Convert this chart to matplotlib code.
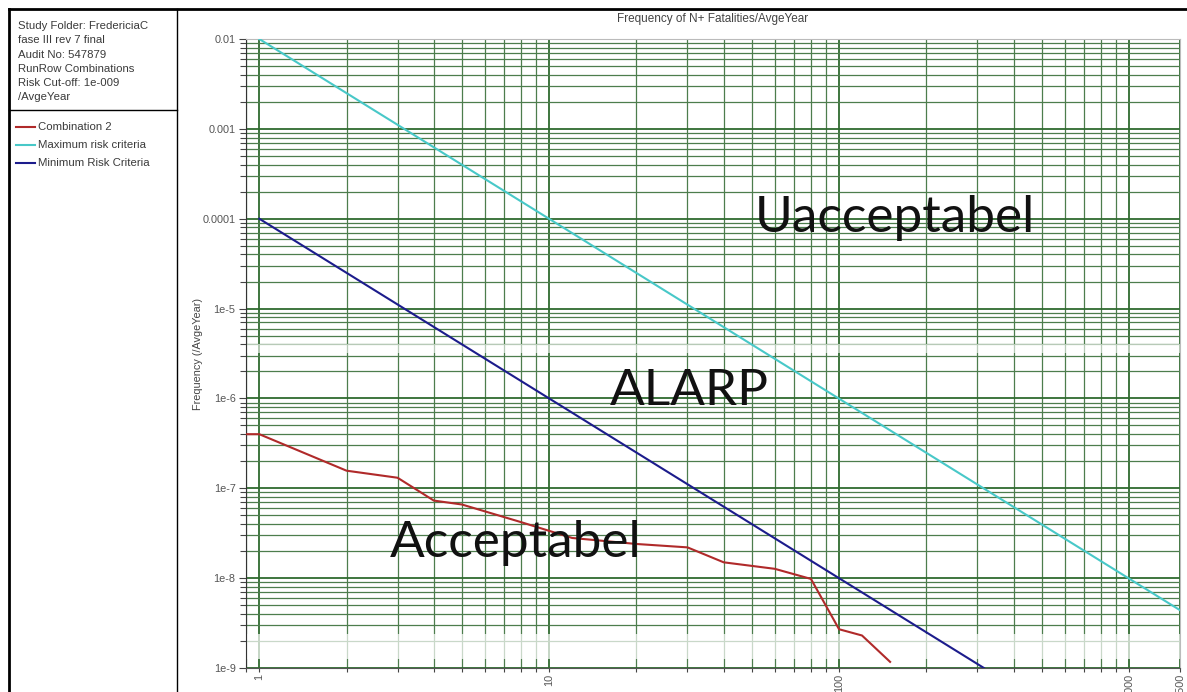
import matplotlib
matplotlib.use("Agg")
import matplotlib.pyplot as plt
from matplotlib.lines import Line2D
from matplotlib.ticker import FixedLocator, FixedFormatter, NullFormatter, LogLocator

# --- data ---
n_comb = [0.9, 1, 2, 3, 4, 5, 8, 12, 20, 30, 40, 60, 80, 100, 120, 150]
f_comb = [4.0e-7, 4.0e-7, 1.57e-7, 1.31e-7, 7.3e-8, 6.6e-8, 4.2e-8, 2.8e-8,
          2.4e-8, 2.2e-8, 1.5e-8, 1.27e-8, 9.8e-9, 2.7e-9, 2.3e-9, 1.17e-9]

n_max = [1, 1500]
f_max = [1e-2, 4.4e-9]

n_min = [1, 316]
f_min = [1e-4, 1e-9]

x_ticks = [1, 10, 100, 1000, 1500]
x_labels = ["1", "10", "100", "1000", "1500"]
y_ticks = [1e-2, 1e-3, 1e-4, 1e-5, 1e-6, 1e-7, 1e-8, 1e-9]
y_labels = ["0.01", "0.001", "0.0001", "1e-5", "1e-6", "1e-7", "1e-8", "1e-9"]

info_lines = ["Study Folder: FredericiaC", "fase III rev 7 final", "Audit No: 547879",
              "RunRow Combinations", "Risk Cut-off: 1e-009", "/AvgeYear"]
legend_names = ["Combination 2", "Maximum risk criteria", "Minimum Risk Criteria"]
legend_colors = ["#b02a2a", "#48c8c8", "#1c1c8c"]

W, H = 1187, 692
fig = plt.figure(figsize=(W / 100, H / 100), dpi=100)
fig.patch.set_facecolor("white")


def fx(px):
    return px / W


def fy(py):
    return 1 - py / H


txt_col = "#3a3a3a"
sans = ["Liberation Sans", "DejaVu Sans"]

# outer frame lines
fig.add_artist(Line2D([fx(9), 1], [fy(9), fy(9)], color="black", lw=2))
fig.add_artist(Line2D([fx(9), fx(9)], [fy(9), 0], color="black", lw=2))
fig.add_artist(Line2D([fx(177), fx(177)], [fy(9), 0], color="black", lw=1))
fig.add_artist(Line2D([fx(9), fx(177)], [fy(110), fy(110)], color="black", lw=1))

# info text in left panel
for i, s in enumerate(info_lines):
    fig.text(fx(18), fy(26 + i * 14.3), s, fontsize=8.2, color=txt_col,
             family=sans, va="center", ha="left")

# legend in left panel
for i, (name, c) in enumerate(zip(legend_names, legend_colors)):
    yy = fy(127 + i * 18)
    fig.add_artist(Line2D([fx(16), fx(35)], [yy, yy], color=c, lw=1.5))
    fig.text(fx(38), yy, name, fontsize=8.2, color=txt_col, family=sans,
             va="center", ha="left")

# main axes
ax = fig.add_axes([fx(246), fy(668), fx(1180) - fx(246), fy(39) - fy(668)])
ax.set_xscale("log")
ax.set_yscale("log")
ax.set_xlim(0.9, 1500)
ax.set_ylim(1e-9, 1e-2)

grid_col = "#4d7d4d"
ax.xaxis.set_major_locator(FixedLocator(x_ticks))
ax.xaxis.set_major_formatter(FixedFormatter(x_labels))
ax.xaxis.set_minor_locator(LogLocator(base=10, subs=range(2, 10), numticks=20))
ax.xaxis.set_minor_formatter(NullFormatter())
ax.yaxis.set_major_locator(FixedLocator(y_ticks))
ax.yaxis.set_major_formatter(FixedFormatter(y_labels))
ax.yaxis.set_minor_locator(LogLocator(base=10, subs=range(2, 10), numticks=20))
ax.yaxis.set_minor_formatter(NullFormatter())

ax.grid(True, which="major", color="#2f6a2f", lw=1.3)
ax.grid(True, which="minor", color=grid_col, lw=0.9)
ax.set_axisbelow(True)

ax.tick_params(axis="both", which="both", direction="out", color="#444444",
               labelcolor="#555555", labelsize=7.8, width=0.8)
ax.tick_params(axis="y", which="major", length=5, pad=2.5)
ax.tick_params(axis="y", which="minor", length=4)
ax.tick_params(axis="x", which="both", length=3)
ax.tick_params(axis="x", which="major", pad=1)
for lab in ax.get_xticklabels():
    lab.set_rotation(90)
    lab.set_family(sans)
for lab in ax.get_yticklabels():
    lab.set_family(sans)

for side in ["top", "right"]:
    ax.spines[side].set_color("#bbbbbb")
    ax.spines[side].set_linewidth(0.8)
ax.spines["left"].set_color("#333333")
ax.spines["bottom"].set_color("#555555")

# faded bands (scan artefacts)
ax.axhspan(3.2e-6, 4.0e-6, color="white", alpha=0.6, lw=0, zorder=1)
ax.axhspan(1.25e-9, 2.4e-9, color="white", alpha=0.7, lw=0, zorder=1)

ax.plot(n_max, f_max, color=legend_colors[1], lw=1.5, zorder=3)
ax.plot(n_min, f_min, color=legend_colors[2], lw=1.5, zorder=3)
ax.plot(n_comb, f_comb, color=legend_colors[0], lw=1.5, zorder=3)

ax.set_title("Frequency of N+ Fatalities/AvgeYear", fontsize=8.5, color="#444444",
             family=sans, pad=12)
ax.set_ylabel("Frequency (/AvgeYear)", fontsize=7.8, color="#444444", family=sans)
ax.yaxis.set_label_coords(-0.046, 0.5)

big = dict(fontsize=37, color="#111111", family=["Lato", "DejaVu Sans"],
           transform=ax.transAxes, ha="left", va="baseline", zorder=4)
ax.text(0.545, 0.693, "Uacceptabel", **big)
ax.text(0.390, 0.418, "ALARP", **big)
ax.text(0.154, 0.176, "Acceptabel", **big)

fig.savefig("out.png", dpi=100, facecolor="white")
